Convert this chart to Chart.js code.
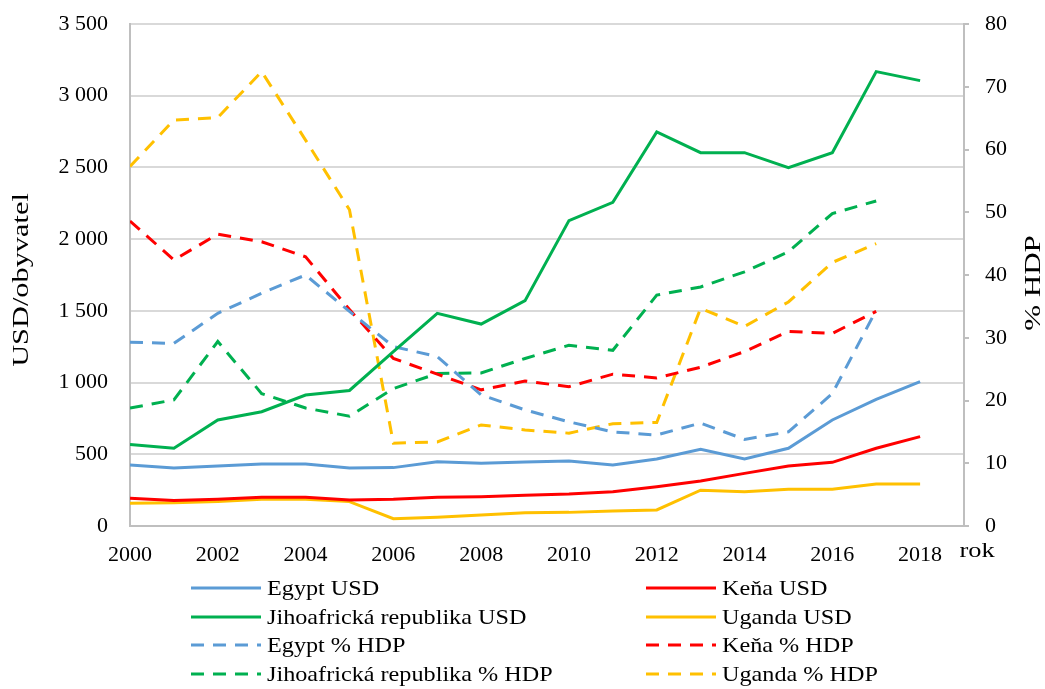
<!DOCTYPE html>
<html>
<head>
<meta charset="utf-8">
<script src="https://cdn.jsdelivr.net/npm/chart.js@4.4.1/dist/chart.umd.min.js"></script>
<style>
html, body { margin: 0; background: #fff; }
#wrap { width: 1045px; height: 689px; }
</style>
</head>
<body>
<div id="wrap"><canvas id="chart"></canvas></div>
<script>
'use strict';

const years = [2000, 2001, 2002, 2003, 2004, 2005, 2006, 2007, 2008, 2009,
               2010, 2011, 2012, 2013, 2014, 2015, 2016, 2017, 2018];
const yearTicks = [2000, 2002, 2004, 2006, 2008, 2010, 2012, 2014, 2016, 2018];

// USD/obyvatel (levá osa)
const egyptUsd  = [425, 404, 418, 432, 432, 404, 407, 448, 437, 446, 453, 425, 467, 535, 467, 542, 739, 883, 1006];
const kenaUsd   = [193, 177, 186, 200, 200, 181, 186, 200, 204, 214, 223, 239, 274, 314, 367, 418, 444, 542, 623];
const jarUsd    = [569, 542, 739, 797, 913, 945, 1215, 1483, 1408, 1571, 2129, 2257, 2747, 2603, 2603, 2498, 2603, 3168, 3105];
const ugandaUsd = [158, 162, 170, 186, 186, 170, 51, 61, 77, 93, 95, 105, 112, 250, 239, 256, 256, 293, 293];

// % HDP (pravá osa)
const egyptHdp  = [29.3, 29.1, 33.9, 37.1, 40.0, 34.2, 28.6, 27.0, 20.9, 18.5, 16.6, 15.0, 14.5, 16.4, 13.8, 15.0, 21.1, 34.4, null];
const kenaHdp   = [48.6, 42.4, 46.5, 45.3, 42.9, 34.5, 26.7, 24.2, 21.7, 23.1, 22.2, 24.2, 23.6, 25.3, 27.8, 31.0, 30.7, 34.2, null];
const jarHdp    = [18.8, 20.1, 29.4, 21.1, 18.8, 17.5, 21.9, 24.3, 24.4, 26.7, 28.8, 28.0, 36.8, 38.1, 40.5, 43.7, 49.8, 51.8, null];
const ugandaHdp = [57.3, 64.7, 65.1, 72.4, 61.5, 50.4, 13.2, 13.4, 16.1, 15.3, 14.8, 16.3, 16.5, 34.7, 31.8, 35.7, 42.0, 45.0, null];

const blue = '#5b9bd5', red = '#ff0000', green = '#00b050', yellow = '#ffc000';
const dash = [13, 9];
const font = 'Liberation Serif';
const axisGray = '#bfbfbf';

function pts(values) {
    return values.map((v, i) => ({ x: years[i], y: v }));
}

function line(label, values, color, axis, dashed) {
    return {
        label: label,
        data: pts(values),
        borderColor: color,
        backgroundColor: color,
        borderWidth: 3,
        borderDash: dashed ? dash : [],
        pointRadius: 0,
        tension: 0,
        yAxisID: axis
    };
}

const datasets = [
    line('Egypt USD', egyptUsd, blue, 'y', false),
    line('Keňa USD', kenaUsd, red, 'y', false),
    line('Jihoafrická republika USD', jarUsd, green, 'y', false),
    line('Uganda USD', ugandaUsd, yellow, 'y', false),
    line('Egypt % HDP', egyptHdp, blue, 'y1', true),
    line('Keňa % HDP', kenaHdp, red, 'y1', true),
    line('Jihoafrická republika % HDP', jarHdp, green, 'y1', true),
    line('Uganda % HDP', ugandaHdp, yellow, 'y1', true)
];

// text roztažený do šířky jako v originále
function wideText(ctx, text, x, y, sx, rot) {
    ctx.save();
    ctx.translate(x, y);
    if (rot) ctx.rotate(rot);
    ctx.scale(sx, 1);
    ctx.fillText(text, 0, 0);
    ctx.restore();
}

// legenda ve dvou sloupcích + popisky os
const extras = {
    id: 'extras',
    afterDraw(chart) {
        const ctx = chart.ctx;
        const colX = [191, 646];
        const rowY = [588, 617, 645, 674];
        ctx.save();
        ctx.font = '22px "' + font + '"';
        ctx.fillStyle = '#000';
        ctx.textBaseline = 'middle';
        chart.data.datasets.forEach((ds, i) => {
            const x = colX[i % 2];
            const y = rowY[Math.floor(i / 2)];
            ctx.beginPath();
            ctx.strokeStyle = ds.borderColor;
            ctx.lineWidth = 3;
            ctx.setLineDash(ds.borderDash);
            ctx.moveTo(x, y);
            ctx.lineTo(x + 70, y);
            ctx.stroke();
            ctx.setLineDash([]);
            ctx.textAlign = 'left';
            wideText(ctx, ds.label, x + 76, y + 1, 1.1, 0);
        });

        ctx.textAlign = 'center';
        wideText(ctx, 'rok', 977, 551, 1.2, 0);

        ctx.font = '23px "' + font + '"';
        wideText(ctx, 'USD/obyvatel', 22, 280, 1.32, -Math.PI / 2);
        wideText(ctx, '% HDP', 1034, 283, 1.35, -Math.PI / 2);
        ctx.restore();
    }
};

const tickFont = { family: font, size: 22 };

// pevná šířka osy, bez přesahu popisků nahoru/dolů
function fixY(width) {
    return s => {
        s.width = width;
        s.paddingTop = 0;
        s.paddingBottom = 0;
    };
}

new Chart(document.getElementById('chart').getContext('2d'), {
    type: 'line',
    data: { datasets: datasets },
    options: {
        responsive: true,
        maintainAspectRatio: false,
        animation: false,
        layout: { padding: { top: 24, bottom: 123, left: 0, right: 0 } },
        plugins: {
            legend: { display: false },
            tooltip: { enabled: false }
        },
        scales: {
            x: {
                type: 'linear',
                min: 2000,
                max: 2019,
                afterBuildTicks: s => { s.ticks = yearTicks.map(v => ({ value: v })); },
                afterFit: s => { s.height = 40; },
                grid: { display: false, drawTicks: false },
                border: { color: axisGray, width: 2 },
                ticks: { font: tickFont, color: '#000', padding: 16, maxRotation: 0, autoSkip: false,
                         callback: v => String(v) }
            },
            y: {
                position: 'left',
                min: 0,
                max: 3500,
                afterFit: fixY(130),
                grid: { color: '#d9d9d9', lineWidth: 2, drawTicks: false },
                border: { color: axisGray, width: 2 },
                ticks: { stepSize: 500, font: tickFont, color: '#000', padding: 22,
                         callback: v => String(v).replace(/\B(?=(\d{3})+(?!\d))/g, ' ') }
            },
            y1: {
                position: 'right',
                min: 0,
                max: 80,
                afterFit: fixY(81),
                grid: { drawOnChartArea: false, color: axisGray, lineWidth: 2, tickLength: 5 },
                border: { color: axisGray, width: 2 },
                ticks: { stepSize: 10, font: tickFont, color: '#000', padding: 16 }
            }
        }
    },
    plugins: [extras]
});
</script>
</body>
</html>
